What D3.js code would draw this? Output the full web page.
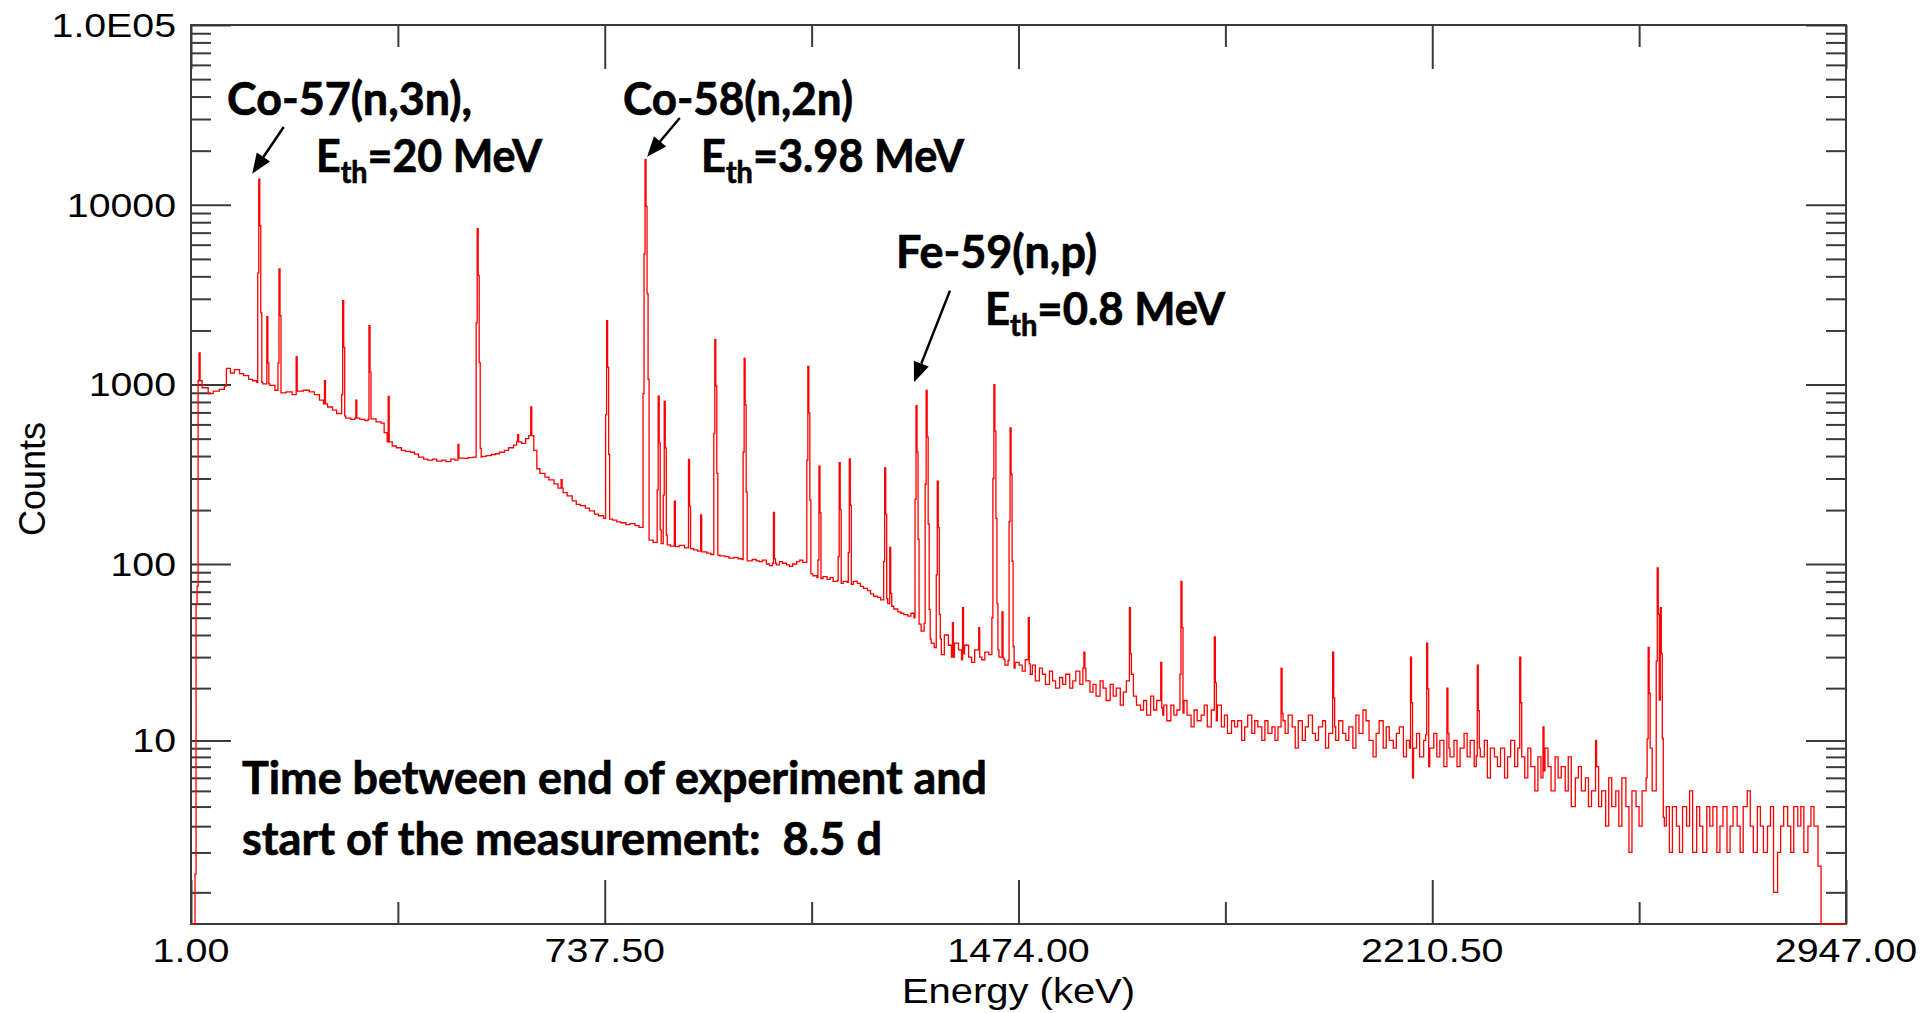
<!DOCTYPE html>
<html>
<head>
<meta charset="utf-8">
<script src="https://cdn.jsdelivr.net/npm/d3@7"></script>
<style>
  html, body { margin: 0; padding: 0; background: #fff; }
  svg { display: block; }
  .note { font-family: Lato, "Open Sans", sans-serif; font-weight: 700; fill: #000; stroke: #000; stroke-width: 0.7px; }
  .tick-label, .axis-title { font-family: "Liberation Sans", Arial, sans-serif; fill: #000; }
</style>
</head>
<body>
<div id="vis"></div>
<script>
////////////////////////////////////////
//////////////// Data //////////////////
////////////////////////////////////////

// x axis (keV)
const xMajor = [1, 737.5, 1474, 2210.5, 2947];
const xMinor = [369.25, 1105.75, 1842.25, 2578.75];
const xLabels = ["1.00", "737.50", "1474.00", "2210.50", "2947.00"];

// y axis (counts, log)
const yMajor = [10, 100, 1000, 10000, 100000];
const yLabels = ["10", "100", "1000", "10000", "1.0E05"];

// continuum below 1000 keV: energy (keV) and counts
const lowE = [1, 7, 10, 13, 20, 30, 40, 50, 60, 64, 70, 78, 86, 94, 102, 110, 118, 128, 140, 150,
  160, 170, 180, 190, 200, 210, 220, 228, 236, 244, 252, 260, 268, 276, 284, 292, 300, 310, 320, 330,
  338, 344, 350, 358, 366, 374, 382, 390, 398, 406, 414, 422, 430, 438, 446, 454, 462, 470, 478, 486,
  494, 502, 518, 526, 534, 542, 550, 558, 566, 574, 580, 588, 596, 602, 610, 616, 622, 630, 638, 646,
  654, 662, 670, 678, 686, 694, 702, 710, 718, 726, 734, 742, 750, 758, 766, 774, 782, 790, 798, 806,
  814, 822, 830, 838, 846, 854, 862, 870, 878, 886, 894, 902, 910, 918, 926, 934, 942, 950, 958, 966,
  974, 982, 990];
const lowC = [0.2, 1.4, 60, 1050, 960, 890, 920, 940, 980, 1230, 1160, 1210, 1150, 1120, 1070, 1050, 1030, 1010, 990, 930,
  900, 910, 880, 920, 930, 910, 880, 820, 780, 750, 720, 690, 670, 650, 640, 650, 640, 630, 645, 620,
  610, 540, 480, 455, 445, 430, 425, 420, 410, 395, 385, 380, 385, 375, 380, 372, 385, 380, 390, 388,
  392, 395, 398, 402, 408, 412, 420, 430, 445, 460, 480, 470, 500, 520, 430, 340, 320, 305, 295, 280,
  265, 250, 240, 225, 215, 212, 205, 198, 190, 186, 180, 178, 176, 172, 170, 166, 168, 164, 160, 150,
  136, 132, 134, 130, 128, 126, 125, 127, 123, 122, 120, 118, 117, 115, 113, 112, 111, 110, 108, 109,
  107, 106, 104];

// continuum from 1000 keV upward, 6 keV bins
const tailStart = 1000;
const tailStep = 6;
const tailC = [
  106, 104, 103, 105, 100, 98, 101, 99, 103, 101, 99, 97, 100, 103, 105, 102,
  101, 88, 86, 84, 83, 85, 82, 84, 80, 81, 78, 80, 79, 77, 80, 78,
  75, 73, 71, 68, 66, 65, 63, 64, 60, 58, 56, 54, 53, 52, 51, 53,
  50, 46, 42, 40, 38, 36, 34, 38, 31, 40, 35, 30, 36, 33, 29, 35,
  30, 28, 33, 30, 29, 32, 31, 28, 33, 30, 29, 27, 31, 26, 28, 27,
  25, 29, 24, 27, 22, 26, 24, 21, 25, 22, 20, 23, 21, 24, 20, 22,
  25, 21, 26, 22, 19, 21, 18, 22, 20, 17, 21, 18, 20, 16, 19, 22,
  24, 18, 16, 15, 17, 14, 18, 15, 17, 14, 16, 13, 16, 14, 15, 13,
  17, 14, 12, 15, 13, 14, 16, 12, 15, 13, 16, 12, 14, 11, 13, 12,
  13, 10, 12, 14, 11, 13, 12, 10, 13, 11, 12, 10, 12, 13, 11, 14,
  12, 9, 13, 10, 12, 14, 11, 10, 12, 13, 9, 11, 12, 10, 13, 11,
  10, 12, 9, 14, 11, 15, 13, 10, 8, 11, 13, 9, 12, 10, 9, 11,
  12, 8, 10, 6, 9, 11, 8, 10, 7, 9, 11, 8, 10, 7, 9, 8,
  10, 7, 9, 11, 8, 10, 7, 9, 8, 10, 6, 9, 8, 7, 9, 6,
  8, 10, 7, 9, 8, 6, 9, 7, 5, 8, 6, 9, 7, 5, 8, 6,
  7, 5, 8, 4, 6, 7, 5, 6, 4, 5, 7, 4, 5, 3, 6, 4,
  5, 3, 6, 4, 2, 5, 4, 3, 5, 6, 9, 5, 4, 5, 3, 4,
  2, 4, 3, 2, 4, 3, 5, 2, 4, 3, 2, 4, 3, 4, 2, 3,
  4, 2, 3, 4, 3, 2, 4, 5, 3, 2, 4, 3, 2, 3, 4, 1,
  2, 3, 4, 3, 2, 4, 3, 4, 2, 3, 4, 3, 1.6, 0, 0, 0,
  0, 0, 0, 0, 0
];

// photopeaks: energy (keV) and top counts
const peakE = [16, 122, 136, 158, 189, 239, 271, 295, 318, 352, 476, 511, 582, 606, 659, 741, 810, 832, 844, 861,
  887, 909, 933, 985, 1037, 1099, 1118, 1155, 1172, 1236, 1244, 1291, 1309, 1329, 1356, 1375, 1404, 1431, 1444, 1459,
  1492, 1590, 1671, 1728, 1763, 1822, 1942, 2033, 2172, 2201, 2237, 2291, 2366, 2408, 2502, 2595, 2611, 2616];
const peakC = [1500, 13900, 2390, 4400, 1430, 1050, 2930, 818, 2130, 860, 465, 7360, 527, 750, 296, 2270, 17800, 861, 807, 224,
  383, 188, 1780, 1400, 194, 1264, 351, 367, 386, 344, 124, 764, 929, 290, 47, 57, 44, 1000, 54, 574,
  50, 32, 57, 28, 80, 39, 26, 32, 30, 36, 20, 27, 30, 12, 10, 34, 95, 57];

// annotation arrows: tail and tip in data units (keV, counts)
const arrowFrom = [[166, 27100], [871, 30400], [1352, 3330]];
const arrowTo = [[110, 14900], [813, 18500], [1288, 1030]];

////////////////////////////////////////
/////////////// Options ////////////////
////////////////////////////////////////

const options = {
  width: 1926,
  height: 1013,
  left: 191,
  right: 1846,
  top: 25,
  bottom: 924,
  axisColor: "#3a3a3a",
  lineColor: "#ff0000",
  chanWidth: 1.8,
  noteSize: 45,
};

////////////////////////////////////////
/////////////// Scales /////////////////
////////////////////////////////////////

const x = d3.scaleLinear().domain([1, 2947]).range([options.left, options.right]);
// the counts axis is log10(counts + 0.5)
const yLog = d3.scaleLog().domain([1, 100000.5]).range([options.bottom, options.top]).clamp(true);
const y = (v) => yLog(v + 0.5);

const yMinor = [];
[1, 10, 100, 1000, 10000].forEach((d) => {
  for (let k = d === 1 ? 1 : 2; k <= 9; k++) yMinor.push(k * d);
});

////////////////////////////////////////
////////////// Spectrum ////////////////
////////////////////////////////////////

const cont = lowE.map((e, i) => [e, lowC[i]])
  .concat(tailC.map((c, i) => [tailStart + i * tailStep, c]));
const bisect = d3.bisector((d) => d[0]).right;
const contAt = (e) => cont[Math.max(0, bisect(cont, e) - 1)][1];

// channel profile of a photopeak, relative to its top
const peakShape = [[-2, 0.05], [-1, 0.3], [0, 1], [1, 0.55], [2, 0.18], [3, 0.06]];

const nChan = Math.floor(2946 / options.chanWidth) + 1;
const chanE = d3.range(nChan).map((i) => 1 + i * options.chanWidth);
const counts = chanE.map(contAt);
peakE.forEach((pe, j) => {
  const i0 = Math.round((pe - 1) / options.chanWidth);
  peakShape.forEach(([k, f]) => {
    const i = i0 + k;
    if (i >= 0 && i < nChan) counts[i] = Math.max(counts[i], peakC[j] * f);
  });
});
const spectrum = chanE.map((e, i) => [e, counts[i]]);
spectrum.push([2947, counts[nChan - 1]]);

////////////////////////////////////////
////////////// DOM Setup ///////////////
////////////////////////////////////////

const svg = d3.select("#vis").append("svg")
  .attr("width", options.width)
  .attr("height", options.height);

svg.append("rect").attr("width", options.width).attr("height", options.height).attr("fill", "#fff");

function tickAxis(axis, transform) {
  const g = svg.append("g")
    .attr("transform", transform)
    .attr("color", options.axisColor)
    .call(axis);
  g.select(".domain").remove();
  g.selectAll(".tick line").attr("stroke-width", 2);
  g.selectAll(".tick text").remove();
}

// y ticks, pointing inward on both sides
tickAxis(d3.axisLeft(yLog).tickValues(yMajor.map((v) => v + 0.5)).tickSize(-40), `translate(${options.left},0)`);
tickAxis(d3.axisLeft(yLog).tickValues(yMinor.map((v) => v + 0.5)).tickSize(-20), `translate(${options.left},0)`);
tickAxis(d3.axisRight(yLog).tickValues(yMajor.map((v) => v + 0.5)).tickSize(-40), `translate(${options.right},0)`);
tickAxis(d3.axisRight(yLog).tickValues(yMinor.map((v) => v + 0.5)).tickSize(-20), `translate(${options.right},0)`);

// x ticks, pointing inward top and bottom
tickAxis(d3.axisBottom(x).tickValues(xMajor).tickSize(-44), `translate(0,${options.bottom})`);
tickAxis(d3.axisBottom(x).tickValues(xMinor).tickSize(-22), `translate(0,${options.bottom})`);
tickAxis(d3.axisTop(x).tickValues(xMajor).tickSize(-44), `translate(0,${options.top})`);
tickAxis(d3.axisTop(x).tickValues(xMinor).tickSize(-22), `translate(0,${options.top})`);

// frame
svg.append("rect")
  .attr("x", options.left)
  .attr("y", options.top)
  .attr("width", options.right - options.left)
  .attr("height", options.bottom - options.top)
  .attr("fill", "none")
  .attr("stroke", options.axisColor)
  .attr("stroke-width", 2);

// tick labels (the original lettering is a bit wide)
svg.append("g").selectAll("g")
  .data(yMajor)
  .join("g")
  .attr("transform", (d) => `translate(176,${y(d)}) scale(1.19,1)`)
  .append("text")
  .attr("class", "tick-label")
  .attr("text-anchor", "end")
  .attr("dy", "0.36em")
  .attr("font-size", 33)
  .text((d, i) => yLabels[i]);

svg.append("g").selectAll("g")
  .data(xMajor)
  .join("g")
  .attr("transform", (d) => `translate(${x(d)},950) scale(1.16,1)`)
  .append("text")
  .attr("class", "tick-label")
  .attr("text-anchor", "middle")
  .attr("dy", "0.36em")
  .attr("font-size", 34)
  .text((d, i) => xLabels[i]);

// axis titles
svg.append("g")
  .attr("transform", `translate(${(options.left + options.right) / 2},990) scale(1.11,1)`)
  .append("text")
  .attr("class", "axis-title")
  .attr("text-anchor", "middle")
  .attr("dy", "0.36em")
  .attr("font-size", 36)
  .text("Energy (keV)");

svg.append("text")
  .attr("class", "axis-title")
  .attr("transform", "translate(32,479) rotate(-90)")
  .attr("text-anchor", "middle")
  .attr("dy", "0.36em")
  .attr("font-size", 36)
  .text("Counts");

// spectrum
svg.append("clipPath").attr("id", "plot-clip")
  .append("rect")
  .attr("x", options.left)
  .attr("y", options.top)
  .attr("width", options.right - options.left)
  .attr("height", options.bottom - options.top + 2);

const line = d3.line()
  .x((d) => x(d[0]))
  .y((d) => y(d[1]))
  .curve(d3.curveStepAfter);

svg.append("path")
  .datum(spectrum)
  .attr("clip-path", "url(#plot-clip)")
  .attr("fill", "none")
  .attr("stroke", options.lineColor)
  .attr("stroke-width", 1.3)
  .attr("d", line);

////////////////////////////////////////
//////////// Annotations ///////////////
////////////////////////////////////////

const notes = svg.append("g").attr("class", "note");

function note(str, xPos, baseline, width) {
  notes.append("text")
    .attr("x", xPos)
    .attr("y", baseline)
    .attr("font-size", options.noteSize)
    .attr("textLength", width)
    .attr("lengthAdjust", "spacingAndGlyphs")
    .text(str);
}

function thresholdNote(value, xPos, baseline, width) {
  const t = notes.append("text")
    .attr("x", xPos)
    .attr("y", baseline)
    .attr("font-size", options.noteSize)
    .attr("textLength", width)
    .attr("lengthAdjust", "spacingAndGlyphs");
  t.append("tspan").text("E");
  t.append("tspan").attr("font-size", 30).attr("dy", 11).text("th");
  t.append("tspan").attr("dy", -11).text("=" + value);
}

note("Co-57(n,3n),", 227, 115, 245);
thresholdNote("20 MeV", 316, 172, 226);
note("Co-58(n,2n)", 623, 115, 230);
thresholdNote("3.98 MeV", 701, 172, 263);
note("Fe-59(n,p)", 896, 268, 201);
thresholdNote("0.8 MeV", 985, 325, 240);
note("Time between end of experiment and", 242, 794, 745);
note("start of the measurement:\u00a0 8.5 d", 242, 855, 640);

// arrows
arrowFrom.forEach((from, i) => {
  const x1 = x(from[0]), y1 = y(from[1]);
  const x2 = x(arrowTo[i][0]), y2 = y(arrowTo[i][1]);
  const a = Math.atan2(y2 - y1, x2 - x1);
  const len = 20, half = 8;
  const bx = x2 - len * Math.cos(a), by = y2 - len * Math.sin(a);
  svg.append("line")
    .attr("x1", x1).attr("y1", y1)
    .attr("x2", bx).attr("y2", by)
    .attr("stroke", "#000")
    .attr("stroke-width", 2.5);
  svg.append("path")
    .attr("d", `M${x2},${y2}L${bx - half * Math.sin(a)},${by + half * Math.cos(a)}L${bx + half * Math.sin(a)},${by - half * Math.cos(a)}Z`)
    .attr("fill", "#000");
});
</script>
</body>
</html>
